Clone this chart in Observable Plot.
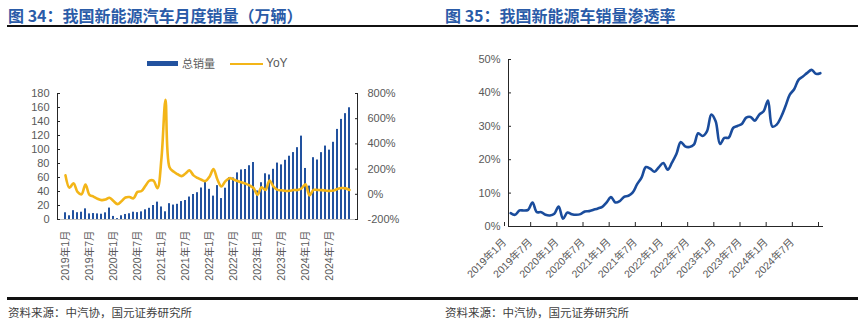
<!DOCTYPE html>
<html><head><meta charset="utf-8">
<script src="https://cdn.jsdelivr.net/npm/d3@7"></script>
<script src="https://cdn.jsdelivr.net/npm/@observablehq/plot@0.6"></script>
<style>
body{margin:0;background:#fff;width:865px;height:321px;overflow:hidden;position:relative;font-family:"Liberation Sans","Noto Sans CJK SC",sans-serif;}
.abs{position:absolute;}
.title{font-family:"Noto Sans CJK SC",sans-serif;font-weight:700;font-size:16px;color:#2a5ba8;top:4px;line-height:22px;white-space:nowrap;}
.hr{height:2.5px;background:#111;}
.src{font-family:"Noto Sans CJK SC",sans-serif;font-size:11.5px;color:#404040;top:303px;line-height:18px;white-space:nowrap;}
.leg{font-size:11px;color:#595959;top:56px;line-height:14px;white-space:nowrap;}
</style></head><body>
<div id="left" class="abs" style="left:0;top:0"></div>
<div id="right" class="abs" style="left:430px;top:0"></div>
<div class="abs title" style="left:8px">图 34：我国新能源汽车月度销量（万辆）</div>
<div class="abs title" style="left:445px">图 35：我国新能源车销量渗透率</div>
<div class="abs hr" style="left:7px;top:24.5px;width:851px"></div>
<div class="abs hr" style="left:7px;top:297px;width:851px"></div>
<div class="abs src" style="left:8px">资料来源：中汽协，国元证券研究所</div>
<div class="abs src" style="left:445px">资料来源：中汽协，国元证券研究所</div>
<div class="abs" style="left:147px;top:61px;width:31px;height:5px;background:#22529f"></div>
<div class="abs leg" style="left:182px;font-family:'Noto Sans CJK SC'">总销量</div>
<div class="abs" style="left:230px;top:62.5px;width:33px;height:2.5px;background:#f3b518"></div>
<div class="abs leg" style="left:266px;font-size:12px">YoY</div>
<script>
// categories
const years = [2019, 2020, 2021, 2022, 2023, 2024];
const monthNums = [1,2,3,4,5,6,7,8,9,10,11,12];
const months = [];
for (const y of years) for (const m of monthNums) months.push(`${y}年${m}月`);

// 新能源汽车月度销量（万辆）
const sales = [
  9.6, 5.3, 12.6, 9.7, 10.4, 15.2, 8.0, 8.5, 8.0, 7.5, 9.5, 16.3,
  4.4, 1.3, 5.3, 7.2, 8.2, 10.4, 9.8, 10.9, 13.8, 16.0, 20.0, 24.8,
  17.9, 11.0, 22.6, 20.6, 21.7, 25.6, 27.1, 32.1, 35.7, 38.3, 45.0, 53.1,
  43.1, 33.4, 48.4, 29.9, 44.7, 59.6, 59.3, 66.6, 70.8, 71.4, 76.8, 81.4,
  40.8, 52.5, 65.3, 63.6, 71.7, 80.6, 78.0, 84.6, 90.4, 95.6, 102.6, 119.1,
  72.9, 47.7, 88.3, 85.0, 95.5, 104.9, 99.1, 110.3, 128.7, 143.0, 151.2, 159.6
];
// YoY (%)
const yoy = [
  150, 52, 88, 20, 0, 78, -5, -18, -35, -46, -42, -27,
  -54, -78, -55, -25, -22, -32, 19, 26, 68, 108, 108, 48,
  290, 750, 215, 180, 160, 144, 165, 190, 150, 130, 115, 105,
  140, 200, 115, 62, 105, 128, 118, 105, 95, 85, 70, 50,
  -5, 55, 35, 110, 60, 35, 32, 27, 28, 34, 34, 46,
  79, -9, 35, 34, 33, 30, 27, 30, 42, 50, 47, 34
];
// 渗透率 (%)
const pen = [
  4.0, 3.5, 4.8, 4.8, 5.0, 7.2, 4.3, 4.3, 3.5, 3.3, 3.8, 6.0,
  2.3, 4.2, 3.7, 3.5, 3.7, 4.5, 4.6, 5.0, 5.4, 5.9, 7.2, 8.8,
  7.2, 7.6, 8.9, 9.2, 10.2, 12.7, 14.6, 17.8, 17.3, 16.4, 17.8, 19.0,
  17.0, 19.2, 21.7, 25.3, 24.0, 23.8, 24.5, 27.9, 27.1, 28.5, 33.5, 31.5,
  24.7, 26.5, 26.6, 29.5, 30.1, 30.7, 32.6, 32.8, 31.7, 33.5, 34.5, 37.7,
  29.9, 30.5, 32.8, 36.0, 39.5, 41.1, 43.9, 44.9, 46.0, 46.9, 45.7, 45.9
];
const leftTicks = [0, 20, 40, 60, 80, 100, 120, 140, 160, 180];
const rightTicks = [-200, 0, 200, 400, 600, 800];
const penTicks = [0, 10, 20, 30, 40, 50];

const font = '"Liberation Sans","Noto Sans CJK SC",sans-serif';
const toLeft = v => (v + 200) * 180 / 1000;
const fromLeft = v => Math.round(v * 1000 / 180 - 200);

const rows = months.map((m, i) => ({m, sales: sales[i], yoy: toLeft(yoy[i])}));
const xLabelTicks = months.filter((_, i) => i % 6 === 0);

const left = Plot.plot({
  width: 430, height: 321,
  marginLeft: 57, marginRight: 73, marginTop: 93, marginBottom: 102,
  style: {fontFamily: font, fontSize: "11px", color: "#595959", background: "transparent", overflow: "visible"},
  x: {type: "band", domain: months, paddingInner: 0.38, paddingOuter: 0.15, label: null},
  y: {domain: [0, 180], label: null},
  marks: [
    Plot.frame({anchor: "bottom", stroke: "#bfbfbf"}),
    Plot.barY(rows, {x: "m", y: "sales", fill: "#22529f"}),
    Plot.line(rows, {x: "m", y: "yoy", stroke: "#f3b518", strokeWidth: 2.6, curve: "catmull-rom"}),
    Plot.frame({anchor: "left", stroke: "#262626"}),
    Plot.frame({anchor: "right", stroke: "#262626"}),
    Plot.axisY({anchor: "left", ticks: leftTicks, tickSize: -3, tickPadding: 11, label: null, stroke: "#262626"}),
    Plot.axisY({anchor: "right", ticks: rightTicks.map(toLeft), tickFormat: d => fromLeft(d) + "%", tickSize: -3, tickPadding: 13, label: null, stroke: "#262626"}),
    Plot.axisX({ticks: xLabelTicks, tickRotate: -90, tickSize: 0, tickPadding: 11, label: null, fontSize: "10.5px"})
  ]
});
document.getElementById("left").append(left);

const prow = pen.map((v, i) => ({i, v}));
const xTicks = d3.range(0, 13).map(k => 6 * k - 0.5);
const right = Plot.plot({
  width: 435, height: 321,
  marginLeft: 78, marginRight: 43, marginTop: 59, marginBottom: 95,
  style: {fontFamily: font, fontSize: "11px", color: "#595959", background: "transparent", overflow: "visible"},
  x: {domain: [-0.5, 71.5], label: null},
  y: {domain: [0, 50], label: null},
  marks: [
    Plot.frame({anchor: "left", stroke: "#262626"}),
    Plot.frame({anchor: "bottom", stroke: "#262626"}),
    Plot.line(prow, {x: "i", y: "v", stroke: "#1a4c9c", strokeWidth: 2.6, curve: "catmull-rom"}),
    Plot.axisY({ticks: penTicks, tickFormat: d => d + "%", tickSize: -3, tickPadding: 11, label: null, stroke: "#262626"}),
    Plot.axisX({ticks: xTicks, tickFormat: t => { const j = Math.round(t + 0.5); return j < 72 ? months[j] : ""; }, tickSize: -4, tickPadding: 18, tickRotate: -45, dx: -4, label: null, fontSize: "10.5px", stroke: "#262626"})
  ]
});
document.getElementById("right").append(right);
</script>
</body></html>
